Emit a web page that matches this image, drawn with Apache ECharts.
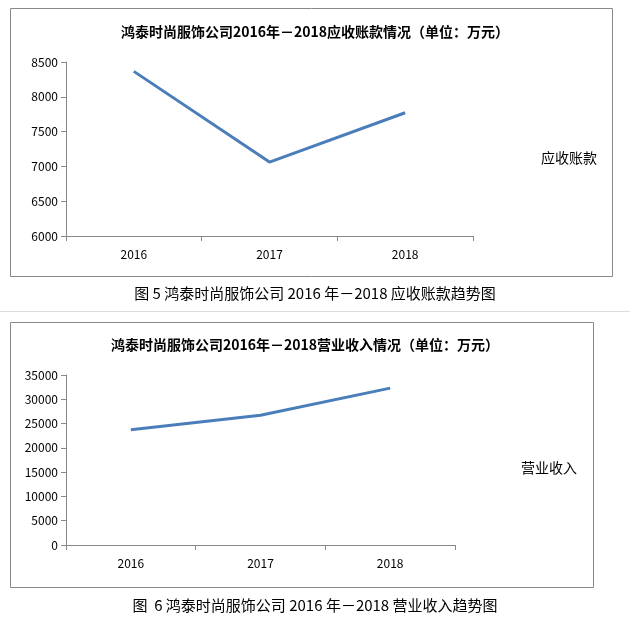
<!DOCTYPE html>
<html><head><meta charset="utf-8">
<script src="https://cdn.jsdelivr.net/npm/echarts@6/dist/echarts.min.js"></script>
<style>body{margin:0;background:#fff}#main{width:630px;height:620px}</style>
</head><body><div id="main"></div>
<script>
const years = ['2016', '2017', '2018']
const receivables = [8365.34, 7061.70, 7770.86]
const revenue = [23747.97, 26720.79, 32298.16]

const font = '"Noto Sans CJK SC", sans-serif'
const blue = '#4a7ebb'
let myChart = echarts.init(document.getElementById('main'))

function axisY (idx, min, max, interval) {
    return {
        gridIndex: idx, min, max, interval,
        axisLine: {show: true, lineStyle: {color: '#888'}},
        axisTick: {show: true, lineStyle: {color: '#888'}},
        splitLine: {show: false},
        axisLabel: {color: '#000', fontSize: 12, fontFamily: font, formatter: v => String(v)}
    }
}
function axisX (idx) {
    return {
        gridIndex: idx, type: 'category', data: years,
        axisLine: {lineStyle: {color: '#888'}},
        axisTick: {show: true, lineStyle: {color: '#888'}},
        axisLabel: {color: '#000', fontSize: 12, fontFamily: font, margin: 12}
    }
}
function lineSeries (name, idx, data, offsets) {
    return {
        name, type: 'line', xAxisIndex: idx, yAxisIndex: idx,
        data: data.map((v, i) => ({value: v, label: {offset: offsets[i]}})),
        symbol: 'circle', symbolSize: 1, showSymbol: true,
        lineStyle: {color: blue, width: 3}, itemStyle: {color: blue, opacity: 0},
        label: {show: true, position: 'right', distance: 3, formatter: p => p.value.toFixed(2),
            fontSize: 13, fontFamily: font, color: '#000'}
    }
}
let option = {
    animation: false,
    graphic: [
        {type: 'rect', shape: {x: 10.5, y: 8.5, width: 602, height: 268}, style: {fill: 'none', stroke: '#888', lineWidth: 1}},
        {type: 'rect', shape: {x: 10.5, y: 322.5, width: 583, height: 265}, style: {fill: 'none', stroke: '#888', lineWidth: 1}},
        {type: 'line', shape: {x1: 0, y1: 311.5, x2: 630, y2: 311.5}, style: {stroke: '#ddd'}},
        {type: 'text', x: 315, y: 293, style: {text: '图 5 鸿泰时尚服饰公司 2016 年－2018 应收账款趋势图', font: '15px ' + font, fill: '#000', align: 'center', verticalAlign: 'middle'}},
        {type: 'text', x: 315, y: 605, style: {text: '图  6 鸿泰时尚服饰公司 2016 年－2018 营业收入趋势图', font: '15px ' + font, fill: '#000', align: 'center', verticalAlign: 'middle'}}
    ],
    title: [
        {text: '鸿泰时尚服饰公司2016年－2018应收账款情况（单位：万元）', left: 310, top: 20, textAlign: 'center',
            textStyle: {fontSize: 14, fontWeight: 'bold', fontFamily: font, color: '#000'}},
        {text: '鸿泰时尚服饰公司2016年－2018营业收入情况（单位：万元）', left: 300, top: 333, textAlign: 'center',
            textStyle: {fontSize: 14, fontWeight: 'bold', fontFamily: font, color: '#000'}}
    ],
    legend: [
        {data: ['应收账款'], left: 495, top: 146, icon: 'rect', itemWidth: 36, itemHeight: 3,
            textStyle: {fontSize: 14, fontFamily: font, color: '#000'}},
        {data: ['营业收入'], left: 475, top: 456, icon: 'rect', itemWidth: 36, itemHeight: 3,
            textStyle: {fontSize: 14, fontFamily: font, color: '#000'}}
    ],
    grid: [
        {left: 66, top: 62, width: 407, height: 174},
        {left: 66, top: 375, width: 389, height: 170}
    ],
    xAxis: [axisX(0), axisX(1)],
    yAxis: [axisY(0, 6000, 8500, 500), axisY(1, 0, 35000, 5000)],
    series: [
        lineSeries('应收账款', 0, receivables, [[0, 2], [0, 12], [0, 0]]),
        lineSeries('营业收入', 1, revenue, [[0, 8], [0, 8], [0, -2]])
    ]
}
myChart.setOption(option)
</script></body></html>
